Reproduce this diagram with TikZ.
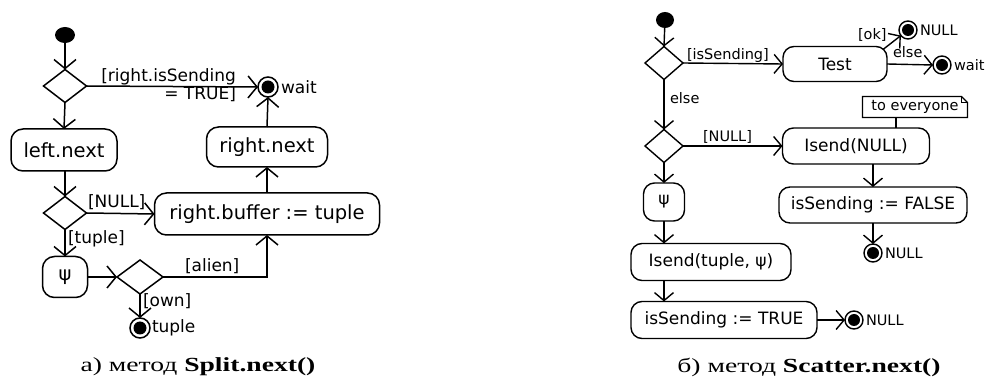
\documentclass[tikz,border=0pt]{standalone}
\usepackage{fontspec}
\setmainfont{DejaVu Sans}
\newfontfamily\capfont{Liberation Serif}
\usetikzlibrary{arrows.meta,shapes.geometric,calc}

\begin{document}
\begin{tikzpicture}[x=1pt,y=-1pt,
  every node/.style={inner sep=0pt, outer sep=0pt},
  % left diagram (Split.next)
  actA/.style={draw, rounded corners=12pt, line width=1.5pt, font=\fontsize{19.5}{22}\selectfont},
  decA/.style={draw, diamond, line width=1.5pt, minimum width=43pt, minimum height=33pt},
  startA/.style={ellipse, fill=black, minimum width=20pt, minimum height=16pt},
  endA/.style={circle, draw, line width=1.5pt, minimum size=20pt,
    path picture={\fill[black] (path picture bounding box.center) circle (6.5pt);}},
  arrA/.style={line width=1.5pt, -{Straight Barb[length=9pt,width=22pt,line width=1.5pt]}},
  labA/.style={font=\fontsize{17}{19}\selectfont},
  % right diagram (Scatter.next)
  actB/.style={draw, rounded corners=11pt, line width=1.4pt, font=\fontsize{17}{19}\selectfont},
  decB/.style={draw, diamond, line width=1.4pt, minimum width=38pt, minimum height=33pt},
  startB/.style={ellipse, fill=black, minimum width=18pt, minimum height=16pt},
  endB/.style={circle, draw, line width=1.4pt, minimum size=18pt,
    path picture={\fill[black] (path picture bounding box.center) circle (6pt);}},
  arrB/.style={line width=1.4pt, -{Straight Barb[length=8pt,width=19pt,line width=1.4pt]}},
  labB/.style={font=\fontsize{14.5}{16}\selectfont},
  capt/.style={font=\capfont\fontsize{20}{22}\selectfont}
]
\useasboundingbox (0,0) rectangle (991,379);

% ---------- Split.next ----------
\node[startA] (s1) at (65,35) {};
\node[decA] (d1) at (65,86) {};
\node[endA] (wait1) at (268,87) {};
\node[labA, anchor=west] (waitL) at (281,87) {wait};
\node[actA, minimum width=106pt, minimum height=42pt] (leftnext) at (64,150) {left.next};
\node[actA, minimum width=121pt, minimum height=40pt] (rightnext) at (267,147) {right.next};
\node[decA] (d2) at (65,213) {};
\node[actA, minimum width=225pt, minimum height=42pt] (buffer) at (267,214) {right.buffer := tuple};
\node[actA, minimum width=45pt, minimum height=41pt] (psi1) at (65,277) {ψ};
\node[decA, minimum width=46pt, minimum height=34pt] (d3) at (140,277) {};
\node[endA] (tupleend) at (140,328) {};
\node[labA, anchor=west] (tupleL) at (152,328) {tuple};

\draw[arrA] (s1) -- (d1.north);
\draw[arrA] (d1.east) -- (wait1.west);
\draw[arrA] (d1.south) -- (leftnext.north);
\draw[arrA] (leftnext.south -| d1) -- (d2.north);
\draw[arrA] (d2.east) -- (buffer.west);
\draw[arrA] (d2.south) -- (psi1.north);
\draw[arrA] (psi1.east) -- (d3.west);
\draw[arrA] (d3.east) -- (buffer.south |- d3.east) -- (buffer.south);
\draw[arrA] (buffer.north) -- (rightnext.south);
\draw[arrA] (rightnext.north) -- (wait1.south);
\draw[arrA] (d3.south) -- (tupleend.north);

\node[labA, anchor=base east] (gA1) at (236,82) {[right.isSending};
\node[labA, anchor=base east] (gA2) at (236,100) {= TRUE]};
\node[labA, anchor=base west] (gA3) at (88,208) {[NULL]};
\node[labA, anchor=base west] (gA4) at (68,244) {[tuple]};
\node[labA, anchor=base west] (gA5) at (185,272) {[alien]};
\node[labA, anchor=base west] (gA6) at (143,307) {[own]};

\node[capt] (capA) at (198,367) {\scalebox{1.38}[1]{а) метод \textbf{Split.next()}}};

% ---------- Scatter.next ----------
\node[startB] (s2) at (665,20) {};
\node[decB] (e1) at (664,63) {};
\node[actB, minimum width=104pt, minimum height=35pt] (test) at (835,64) {Test};
\node[endB] (okend) at (908,30) {};
\node[labB, anchor=west] (okL) at (920,30) {NULL};
\node[endB] (waitend) at (942,65) {};
\node[labB, anchor=west] (waitL2) at (954,65) {wait};
\node[decB] (e2) at (664,146) {};
\node[actB, minimum width=147pt, minimum height=36pt] (isendnull) at (856,146) {Isend(NULL)};
\node[font=\fontsize{14.5}{16}\selectfont, minimum width=105pt, minimum height=21pt] (note) at (915,107) {to everyone};
\node[actB, minimum width=188pt, minimum height=36pt] (falsebox) at (873,205) {isSending := FALSE};
\node[endB] (nullend1) at (873,253) {};
\node[labB, anchor=west] (nullL1) at (885,253) {NULL};
\node[actB, minimum width=41pt, minimum height=38pt] (psi2) at (664,202) {ψ};
\node[actB, minimum width=160pt, minimum height=37pt] (isendtuple) at (711,262) {Isend(tuple, ψ)};
\node[actB, minimum width=186pt, minimum height=37pt] (truebox) at (724,320) {isSending := TRUE};
\node[endB] (nullend2) at (854,320) {};
\node[labB, anchor=west] (nullL2) at (866,320) {NULL};

% note with folded corner
\draw[line width=1.2pt] (note.south west) -- (note.north west) -- ($(note.north east)+(-6,0)$)
  -- ($(note.north east)+(0,6)$) -- (note.south east) -- cycle;
\draw[line width=0.9pt] ($(note.north east)+(-6,0)$) -- ($(note.north east)+(-6,6)$) -- ($(note.north east)+(0,6)$);
\draw[line width=1.4pt] ($(note.south)+(-19,0)$) -- ($(isendnull.north)+(40,0)$);

\draw[arrB] (s2) -- (e1.north);
\draw[arrB] (e1.east) -- (test.west);
\draw[arrB] ($(test.north east)+(-4,3)$) -- (okend);
\draw[arrB] (test.east) -- (waitend.west);
\draw[arrB] (e1.south) -- (e2.north);
\draw[arrB] (e2.east) -- (isendnull.west);
\draw[arrB] (isendnull.south -| falsebox.north) -- (falsebox.north);
\draw[arrB] (falsebox.south) -- (nullend1.north);
\draw[arrB] (e2.south) -- (psi2.north);
\draw[arrB] (psi2.south) -- (psi2.south |- isendtuple.north);
\draw[arrB] (isendtuple.south -| psi2) -- (truebox.north -| psi2);
\draw[arrB] (truebox.east) -- (nullend2.west);

\node[labB, anchor=base west] (gB1) at (687,60) {[isSending]};
\node[labB, anchor=base west] (gB2) at (858,40) {[ok]};
\node[labB, anchor=base west] (gB3) at (893,58) {else};
\node[labB, anchor=base west] (gB4) at (670,104) {else};
\node[labB, anchor=base west] (gB5) at (703,142) {[NULL]};

\node[capt] (capB) at (809,367) {\scalebox{1.38}[1]{б) метод \textbf{Scatter.next()}}};
\end{tikzpicture}
\end{document}
